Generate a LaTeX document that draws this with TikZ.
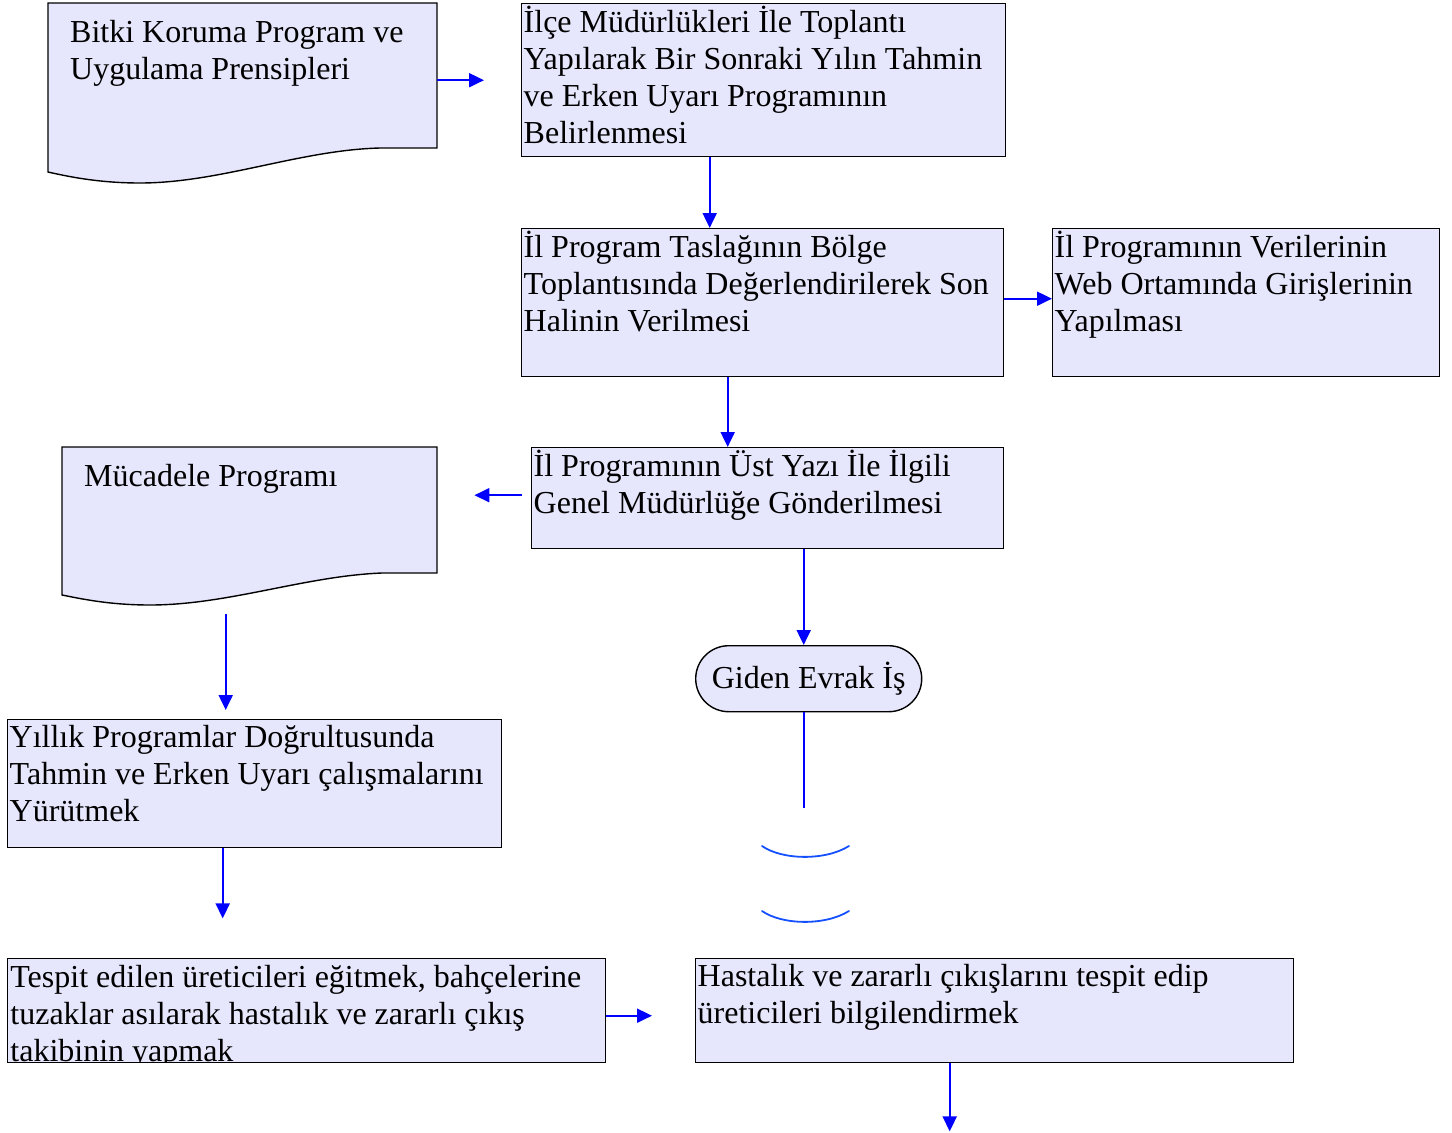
\documentclass[tikz,border=0pt]{standalone}
\usepackage{fontspec}
\setmainfont{Liberation Serif}
\usetikzlibrary{arrows.meta,positioning}
\definecolor{boxfill}{RGB}{230,230,252}
\definecolor{arcblue}{RGB}{20,80,255}
% text set flush to the top left corner of a box
\newcommand{\boxtxt}[3]{\parbox[c][#2pt][t]{#1pt}{\raggedright\leftskip=2pt\vspace*{2pt}\strut #3}}
\newcommand{\doctxt}[3]{\parbox[c][#2pt][t]{#1pt}{\raggedright\leftskip=22pt\vspace*{13pt}\strut #3}}

\begin{document}
\begin{tikzpicture}[x=1pt,y=-1pt,
font=\fontsize{32}{37}\selectfont,
stepbox/.style={draw=black,line width=1.4pt,fill=boxfill,anchor=north west,inner sep=0pt},
docshape/.style={draw=black,line width=1.4pt,fill=boxfill},
doclabel/.style={anchor=north west,inner sep=0pt},
endbox/.style={draw=black,line width=1.4pt,fill=boxfill,anchor=north west,rounded corners=33pt,
  minimum width=226pt,minimum height=66pt,inner sep=0pt},
flow/.style={-{Triangle[length=15pt,width=14pt]},blue,line width=2pt},
brokenarc/.style={arcblue,line width=1.8pt,line cap=round}]
    \useasboundingbox (0,0) rectangle (1452,1133);

    % Document shapes
    \draw[docshape] (48,3) -- (437,3) -- (437,148) -- (380,148)
        .. controls (300,150) and (220,183) .. (140,183)
        .. controls (100,183) and (70,177) .. (48,172) -- cycle;
    \node[doclabel] (bitki) at (48,3)
        {\doctxt{389}{145}{Bitki Koruma Program ve\\Uygulama Prensipleri}};

    \draw[docshape] (62,447) -- (437,447) -- (437,573) -- (382,573)
        .. controls (305,576) and (228,605) .. (150,605)
        .. controls (110,605) and (82,599) .. (62,595) -- cycle;
    \node[doclabel] (mucadele) at (62,447)
        {\doctxt{375}{126}{Mücadele Programı}};

    % Process boxes
    \node[stepbox] (ilce) at (521,3)
        {\boxtxt{484}{153}{İlçe Müdürlükleri İle Toplantı\\Yapılarak Bir Sonraki Yılın Tahmin\\ve Erken Uyarı Programının\\Belirlenmesi}};
    \node[stepbox] (taslak) at (521,228)
        {\boxtxt{482}{148}{İl Program Taslağının Bölge\\Toplantısında Değerlendirilerek Son\\Halinin Verilmesi}};
    \node[stepbox] (web) at (1052,228)
        {\boxtxt{387}{148}{İl Programının Verilerinin\\Web Ortamında Girişlerinin\\Yapılması}};
    \node[stepbox] (ust) at (531,447)
        {\boxtxt{472}{101}{İl Programının Üst Yazı İle İlgili\\Genel Müdürlüğe Gönderilmesi}};
    \node[endbox] (giden) at (695,645) {Giden Evrak İş\hspace{6pt}};
    \node[stepbox] (yillik) at (7,719)
        {\boxtxt{494}{128}{Yıllık Programlar Doğrultusunda\\Tahmin ve Erken Uyarı çalışmalarını\\Yürütmek}};
    \node[stepbox,minimum width=598pt,minimum height=104pt,
        path picture={\node[doclabel] at (path picture bounding box.north west)
        {\boxtxt{598}{104}{Tespit edilen üreticileri eğitmek, bahçelerine\\tuzaklar asılarak hastalık ve zararlı çıkış\\takibinin yapmak}};}] (tespit) at (7,958) {};
    \node[stepbox] (hastalik) at (695,958)
        {\boxtxt{598}{104}{Hastalık ve zararlı çıkışlarını tespit edip\\üreticileri bilgilendirmek}};

    % Connectors
    \draw[flow] (bitki.east |- ilce.west) -- ([xshift=-37pt]ilce.west);
    \draw[flow] ([xshift=-54pt]ilce.south) -- ([xshift=-54pt]ilce.south |- taslak.north);
    \draw[flow] ([yshift=4pt]taslak.east) -- ([yshift=4pt]web.west);
    \draw[flow] ([xshift=-35pt]taslak.south) -- ([xshift=-35pt]taslak.south |- ust.north);
    \draw[flow] ([xshift=-9pt,yshift=3pt]ust.west) -- ([xshift=37pt,yshift=3pt]ust.west -| mucadele.east);
    \draw[flow] ([xshift=-5pt]giden.north |- ust.south) -- ([xshift=-5pt]giden.north);
    \draw[blue,line width=2pt] ([xshift=-5pt]giden.south) -- ++(0,96) coordinate (giden-end);
    \draw[flow] ([xshift=-24pt,yshift=-41pt]mucadele.south) -- ([xshift=-24pt,yshift=9pt]mucadele.south |- yillik.north);
    \draw[flow] ([xshift=-32pt]yillik.south) -- ++(0,70);
    \draw[flow] ([yshift=-5pt]tespit.east) -- ([xshift=-43pt,yshift=-5pt]hastalik.west);
    \draw[flow] ([xshift=-45pt]hastalik.south) -- ++(0,68);

    % Broken store outline
    \draw[brokenarc] (762,846) .. controls (782,860) and (825,861) .. (849,846);
    \draw[brokenarc] (762,911) .. controls (782,925) and (825,926) .. (849,911);
\end{tikzpicture}
\end{document}
